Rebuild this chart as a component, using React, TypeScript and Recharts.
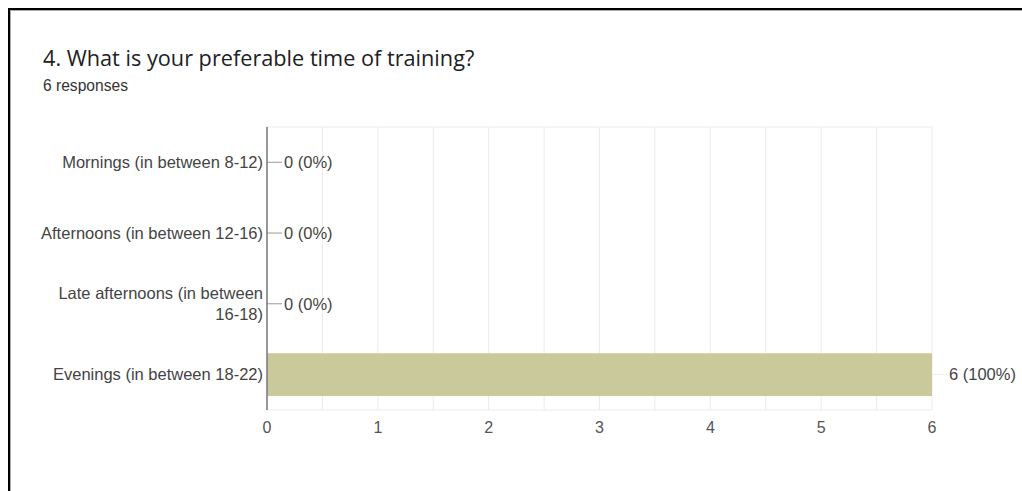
import React from 'react';
import { BarChart, Bar, XAxis, YAxis, CartesianGrid } from 'recharts';

const title = '4. What is your preferable time of training?';
const subtitle = '6 responses';
const categories = [
  'Mornings (in between 8-12)',
  'Afternoons (in between 12-16)',
  'Late afternoons (in between 16-18)',
  'Evenings (in between 18-22)',
];
const responses = [0, 0, 0, 6];
const xTicks = [0, 0.5, 1, 1.5, 2, 2.5, 3, 3.5, 4, 4.5, 5, 5.5, 6];

const total = responses.reduce((a, b) => a + b, 0);
const data = categories.map((c, i) => ({ category: c, value: responses[i] }));

const FONT = '"Liberation Sans", Arial, Helvetica, sans-serif';
const LABEL_COLOR = '#444444';
const LABEL_SIZE = 16.5;
const WRAP_WIDTH = 240;

let measureCtx: CanvasRenderingContext2D | null = null;
function measure(text: string): number {
  if (!measureCtx) {
    const c = document.createElement('canvas');
    measureCtx = c.getContext('2d');
  }
  if (!measureCtx) return text.length * LABEL_SIZE * 0.5;
  measureCtx.font = `${LABEL_SIZE}px ${FONT}`;
  return measureCtx.measureText(text).width;
}

function wrap(text: string): string[] {
  const words = text.split(' ');
  const lines: string[] = [];
  let cur = '';
  for (const w of words) {
    const next = cur ? cur + ' ' + w : w;
    if (cur && measure(next) > WRAP_WIDTH) {
      lines.push(cur);
      cur = w;
    } else {
      cur = next;
    }
  }
  if (cur) lines.push(cur);
  return lines;
}

const CatTick = (props: any) => {
  const { x, y, payload } = props;
  const lines = wrap(String(payload.value));
  const lh = 21;
  const start = -((lines.length - 1) * lh) / 2;
  return (
    <text
      x={x}
      y={y}
      textAnchor="end"
      fontSize={LABEL_SIZE}
      fontFamily={FONT}
      fill={LABEL_COLOR}
    >
      {lines.map((l, i) => (
        <tspan key={i} x={x} y={Number(y) + start + i * lh} dy="0.355em">
          {l}
        </tspan>
      ))}
    </text>
  );
};

const BarWithLabel = (props: any) => {
  const { x, y, width, height, fill, payload } = props;
  const value = Number(payload?.value ?? 0);
  const bx = Number(x);
  const bw = Math.max(0, Number(width) || 0);
  const ex = bx + bw;
  const cy = Number(y) + Number(height) / 2;
  const pct = total ? Math.round((value / total) * 100) : 0;
  return (
    <g>
      {bw > 0 && <rect x={bx} y={Number(y)} width={bw} height={Number(height)} fill={fill} />}
      {bw > 0 && <line x1={bx} x2={ex} y1={Number(y) + 0.5} y2={Number(y) + 0.5} stroke="#d6d6ae" strokeWidth={1} />}
      <line
        x1={ex}
        x2={ex + 15}
        y1={cy}
        y2={cy}
        stroke={value > 0 ? '#eeeeee' : '#999999'}
        strokeWidth={1}
      />
      <text x={ex + 17} y={cy} dy="0.355em" fontSize={LABEL_SIZE} fontFamily={FONT} fill={LABEL_COLOR}>
        {`${value} (${pct}%)`}
      </text>
    </g>
  );
};

export default function App() {
  return (
    <div style={{ position: 'absolute', left: 0, top: 0, width: 1022, height: 491, background: '#fff', overflow: 'hidden' }}>
      <div
        style={{
          position: 'absolute',
          left: 8,
          top: 8,
          width: 1014,
          height: 483,
          borderTop: '2px solid #000',
          borderLeft: '2px solid #000',
          boxSizing: 'border-box',
        }}
      >
        <div style={{ position: 'absolute', left: 0, top: 0, right: 0, bottom: 0, borderTop: '1px solid #aaa', borderLeft: '1px solid #aaa' }} />
      </div>
      <svg style={{ position: 'absolute', left: 0, top: 0 }} width={1022} height={110}>
        <text x={43} y={66} fontSize={21.7} fontFamily='"Open Sans", sans-serif' fill="#202124">
          {title}
        </text>
        <text x={43} y={91} fontSize={15.6} fontFamily={FONT} fill="#333333">
          {subtitle}
        </text>
      </svg>
      <div style={{ position: 'absolute', left: 0, top: 0 }}>
        <BarChart
          width={1022}
          height={491}
          data={data}
          layout="vertical"
          margin={{ top: 127, right: 90, bottom: 51, left: 0 }}
          barCategoryGap="19.5%"
        >
          <CartesianGrid
            stroke="#ebebeb"
            vertical={true}
            horizontal={true}
            horizontalCoordinatesGenerator={(p: any) => [p.offset.top, p.offset.top + p.offset.height]}
          />
          <XAxis
            type="number"
            domain={[0, 6]}
            ticks={xTicks}
            interval={0}
            tickFormatter={(v: number) => (Number.isInteger(v) ? String(v) : '')}
            axisLine={false}
            tickLine={false}
            tickSize={0}
            tickMargin={12}
            height={30}
            tick={{ fontSize: 16, fontFamily: FONT, fill: '#555555' }}
          />
          <YAxis
            type="category"
            dataKey="category"
            width={267}
            tickSize={0}
            tickMargin={4}
            tickLine={false}
            axisLine={{ stroke: '#777777', strokeWidth: 1.5 }}
            tick={<CatTick />}
            interval={0}
          />
          <Bar dataKey="value" fill="#c9c99b" isAnimationActive={false} shape={<BarWithLabel />} />
        </BarChart>
      </div>
    </div>
  );
}
